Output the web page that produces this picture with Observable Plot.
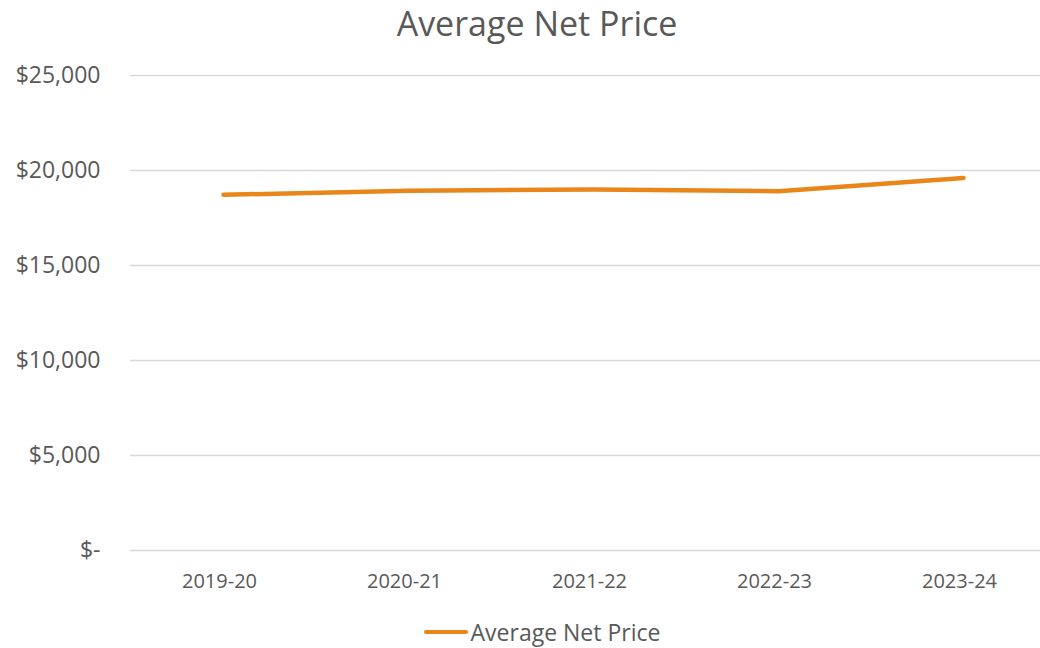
<!DOCTYPE html>
<html>
<head>
<meta charset="utf-8">
<script src="https://cdn.jsdelivr.net/npm/d3@7"></script>
<script src="https://cdn.jsdelivr.net/npm/@observablehq/plot@0.6"></script>
<style>
  body { margin: 0; background: #fff; font-family: "Open Sans", sans-serif; color: #595959; }
  #wrap { width: 1040px; height: 648px; position: relative; overflow: hidden; }
  #title { height: 48px; line-height: 46px; text-align: center; font-size: 34px; color: #595959; padding-left: 34px; box-sizing: border-box; }
  #legend { display: flex; justify-content: center; align-items: center; height: 38px; font-size: 23px; color: #595959; padding-left: 44px; }
  #legend .sw { width: 44px; height: 4.5px; background: #e8861a; border-radius: 2px; margin-right: 3px; }
</style>
</head>
<body>
<div id="wrap">
  <div id="title">Average Net Price</div>
  <div id="chart"></div>
  <div id="legend"><span class="sw"></span><span>Average Net Price</span></div>
</div>
<script>
const years = ["2019-20", "2020-21", "2021-22", "2022-23", "2023-24"];
const netPrice = [18720, 18930, 19000, 18910, 19600];
const yTicks = [0, 5000, 10000, 15000, 20000, 25000];
const seriesName = "Average Net Price";

const data = years.map((y, i) => ({year: y, value: netPrice[i]}));
const fmt = v => v === 0 ? "$-" : "$" + d3.format(",")(v);

const chart = Plot.plot({
  width: 1040,
  height: 565,
  marginTop: 27,
  marginBottom: 63,
  marginLeft: 130,
  marginRight: 0,
  style: {fontFamily: "'Open Sans', sans-serif", fontSize: "20px", color: "#595959", background: "#fff"},
  x: {type: "point", domain: years, range: [221, 964], padding: 0},
  y: {domain: [0, 25000], ticks: yTicks},
  marks: [
    Plot.gridY(yTicks, {stroke: "#d9d9d9", strokeOpacity: 1, strokeWidth: 1.3}),
    Plot.axisY(yTicks, {tickSize: 0, tickPadding: 30, tickFormat: fmt, label: null, fill: "#595959", fontSize: 23}),
    Plot.axisX({tickSize: 0, tickPadding: 23, label: null, fill: "#595959", fontSize: 20, dx: -4}),
    Plot.line(data, {x: "year", y: "value", stroke: "#e8861a", strokeWidth: 4.5, strokeLinecap: "round", strokeLinejoin: "round"})
  ]
});
document.getElementById("chart").appendChild(chart);
</script>
</body>
</html>
